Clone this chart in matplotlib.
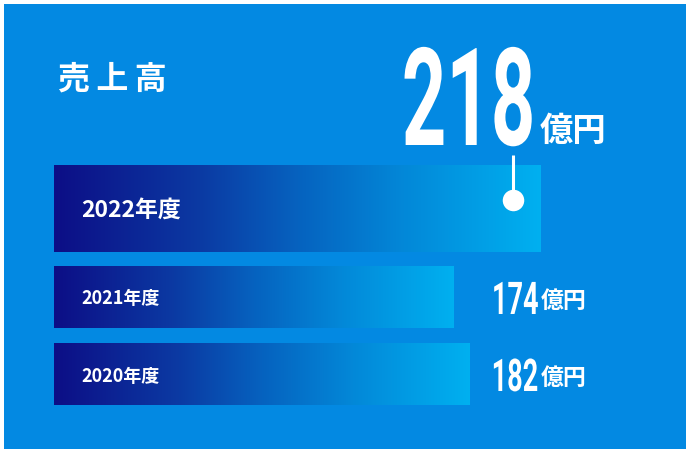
import numpy as np
import matplotlib
matplotlib.use("Agg")
import matplotlib.pyplot as plt
from matplotlib.patches import Rectangle
from matplotlib.colors import LinearSegmentedColormap
from matplotlib.transforms import Affine2D, ScaledTranslation
from matplotlib.patheffects import AbstractPathEffect

# ---------------- data ----------------
title = "売\u2009上\u2009高"
years = ["2022年度", "2021年度", "2020年度"]
values = [218, 174, 182]
unit = "億円"

# ---------------- style / layout ----------------
W, H = 690, 453
BG = "#0389e2"
CJK = ["Noto Sans CJK JP", "DejaVu Sans"]
NUM = "Roboto"

row_centers = [208.5, 297, 374]   # px from top
row_heights = [87, 62, 62]
bar_base = -29                    # bar baseline offset (value units)
px_per_unit = 1.97
bar_left_px = 54

grad = LinearSegmentedColormap.from_list(
    "g", [(0.0, "#0d0e86"), (0.3, "#0b3aa3"), (0.5, "#0662bf"),
          (0.72, "#0388d8"), (1.0, "#00b0f0")])


class Condense(AbstractPathEffect):
    """Horizontally condense text glyphs around left or right ink edge."""
    def __init__(self, sx, anchor="left"):
        super().__init__()
        self.sx = sx
        self.anchor = anchor

    def draw_path(self, renderer, gc, tpath, affine, rgbFace=None):
        ext = tpath.get_extents(affine)
        x0 = ext.x0 if self.anchor == "left" else ext.x1
        t = affine + Affine2D().translate(-x0, 0).scale(self.sx, 1).translate(x0, 0)
        renderer.draw_path(gc, tpath, t, rgbFace)


fig = plt.figure(figsize=(W / 100, H / 100), dpi=100, facecolor="white")
px = Affine2D().scale(1 / W, -1 / H).translate(0, 1) + fig.transFigure

# panel
fig.patches.append(Rectangle((4, 4), W - 8, H - 8, transform=px,
                             facecolor=BG, edgecolor="none", zorder=-5))

ax_w_px = W - bar_left_px
ax = fig.add_axes([bar_left_px / W, 0, ax_w_px / W, 1])
ax.set_facecolor("none")
ax.axis("off")
xmax = bar_base + ax_w_px / px_per_unit
lefts = [bar_base] * len(values)
widths = [v - bar_base for v in values]
bars = ax.barh(row_centers, widths, left=lefts, height=row_heights,
               facecolor="none", edgecolor="none")
g = np.linspace(0, 1, 256).reshape(1, -1)
for b in bars:
    x0, y0, w, h = b.get_x(), b.get_y(), b.get_width(), b.get_height()
    im = ax.imshow(g, cmap=grad, extent=(x0, x0 + w, y0 + h, y0),
                   aspect="auto", interpolation="bilinear", zorder=1)
    im.set_clip_path(b)
ax.set_xlim(bar_base, xmax)
ax.set_ylim(H, 0)

# title
fig.text(58, 80, title, transform=px, color="white", fontsize=23,
         fontweight="bold", family=CJK, va="center", ha="left")

# year labels inside bars
label_sizes = [16.5, 13, 13]
label_x = [81, 81, 81]
for yl, yc, fs, lx in zip(years, row_centers, label_sizes, label_x):
    fig.text(lx, yc + 2, yl, transform=px, color="white", fontsize=fs,
             fontweight="bold", family=CJK, va="center", ha="left")

# big value for latest year
fig.text(538, 145, f"{values[0]}", transform=px, color="white", fontsize=98,
         fontweight="bold", family=NUM, va="baseline", ha="right",
         path_effects=[Condense(0.57, "right")])
fig.text(540, 141, unit, transform=px, color="white", fontsize=24,
         fontweight="bold", family=CJK, va="baseline", ha="left")

# connector line + dot, anchored to end of 2022 bar
off = ScaledTranslation(-28 / 100, 0, fig.dpi_scale_trans)
tr = ax.transData + off
dot_y = row_centers[0] - 9
ax.plot([values[0], values[0]], [155, dot_y], color="white",
        lw=2.2, transform=tr, zorder=3, solid_capstyle="butt")
ax.scatter([values[0]], [dot_y], s=240, color="white",
           transform=tr, zorder=4, linewidths=0)

# other values
for v, yc in zip(values[1:], row_centers[1:]):
    fig.text(539, yc + 17, f"{v}", transform=px, color="white", fontsize=32.5,
             fontweight="bold", family=NUM, va="baseline", ha="right",
             path_effects=[Condense(0.6, "right")])
    fig.text(541, yc + 11, unit, transform=px, color="white", fontsize=16.5,
             fontweight="bold", family=CJK, va="baseline", ha="left")

fig.savefig("out.png", dpi=100, facecolor="white")
